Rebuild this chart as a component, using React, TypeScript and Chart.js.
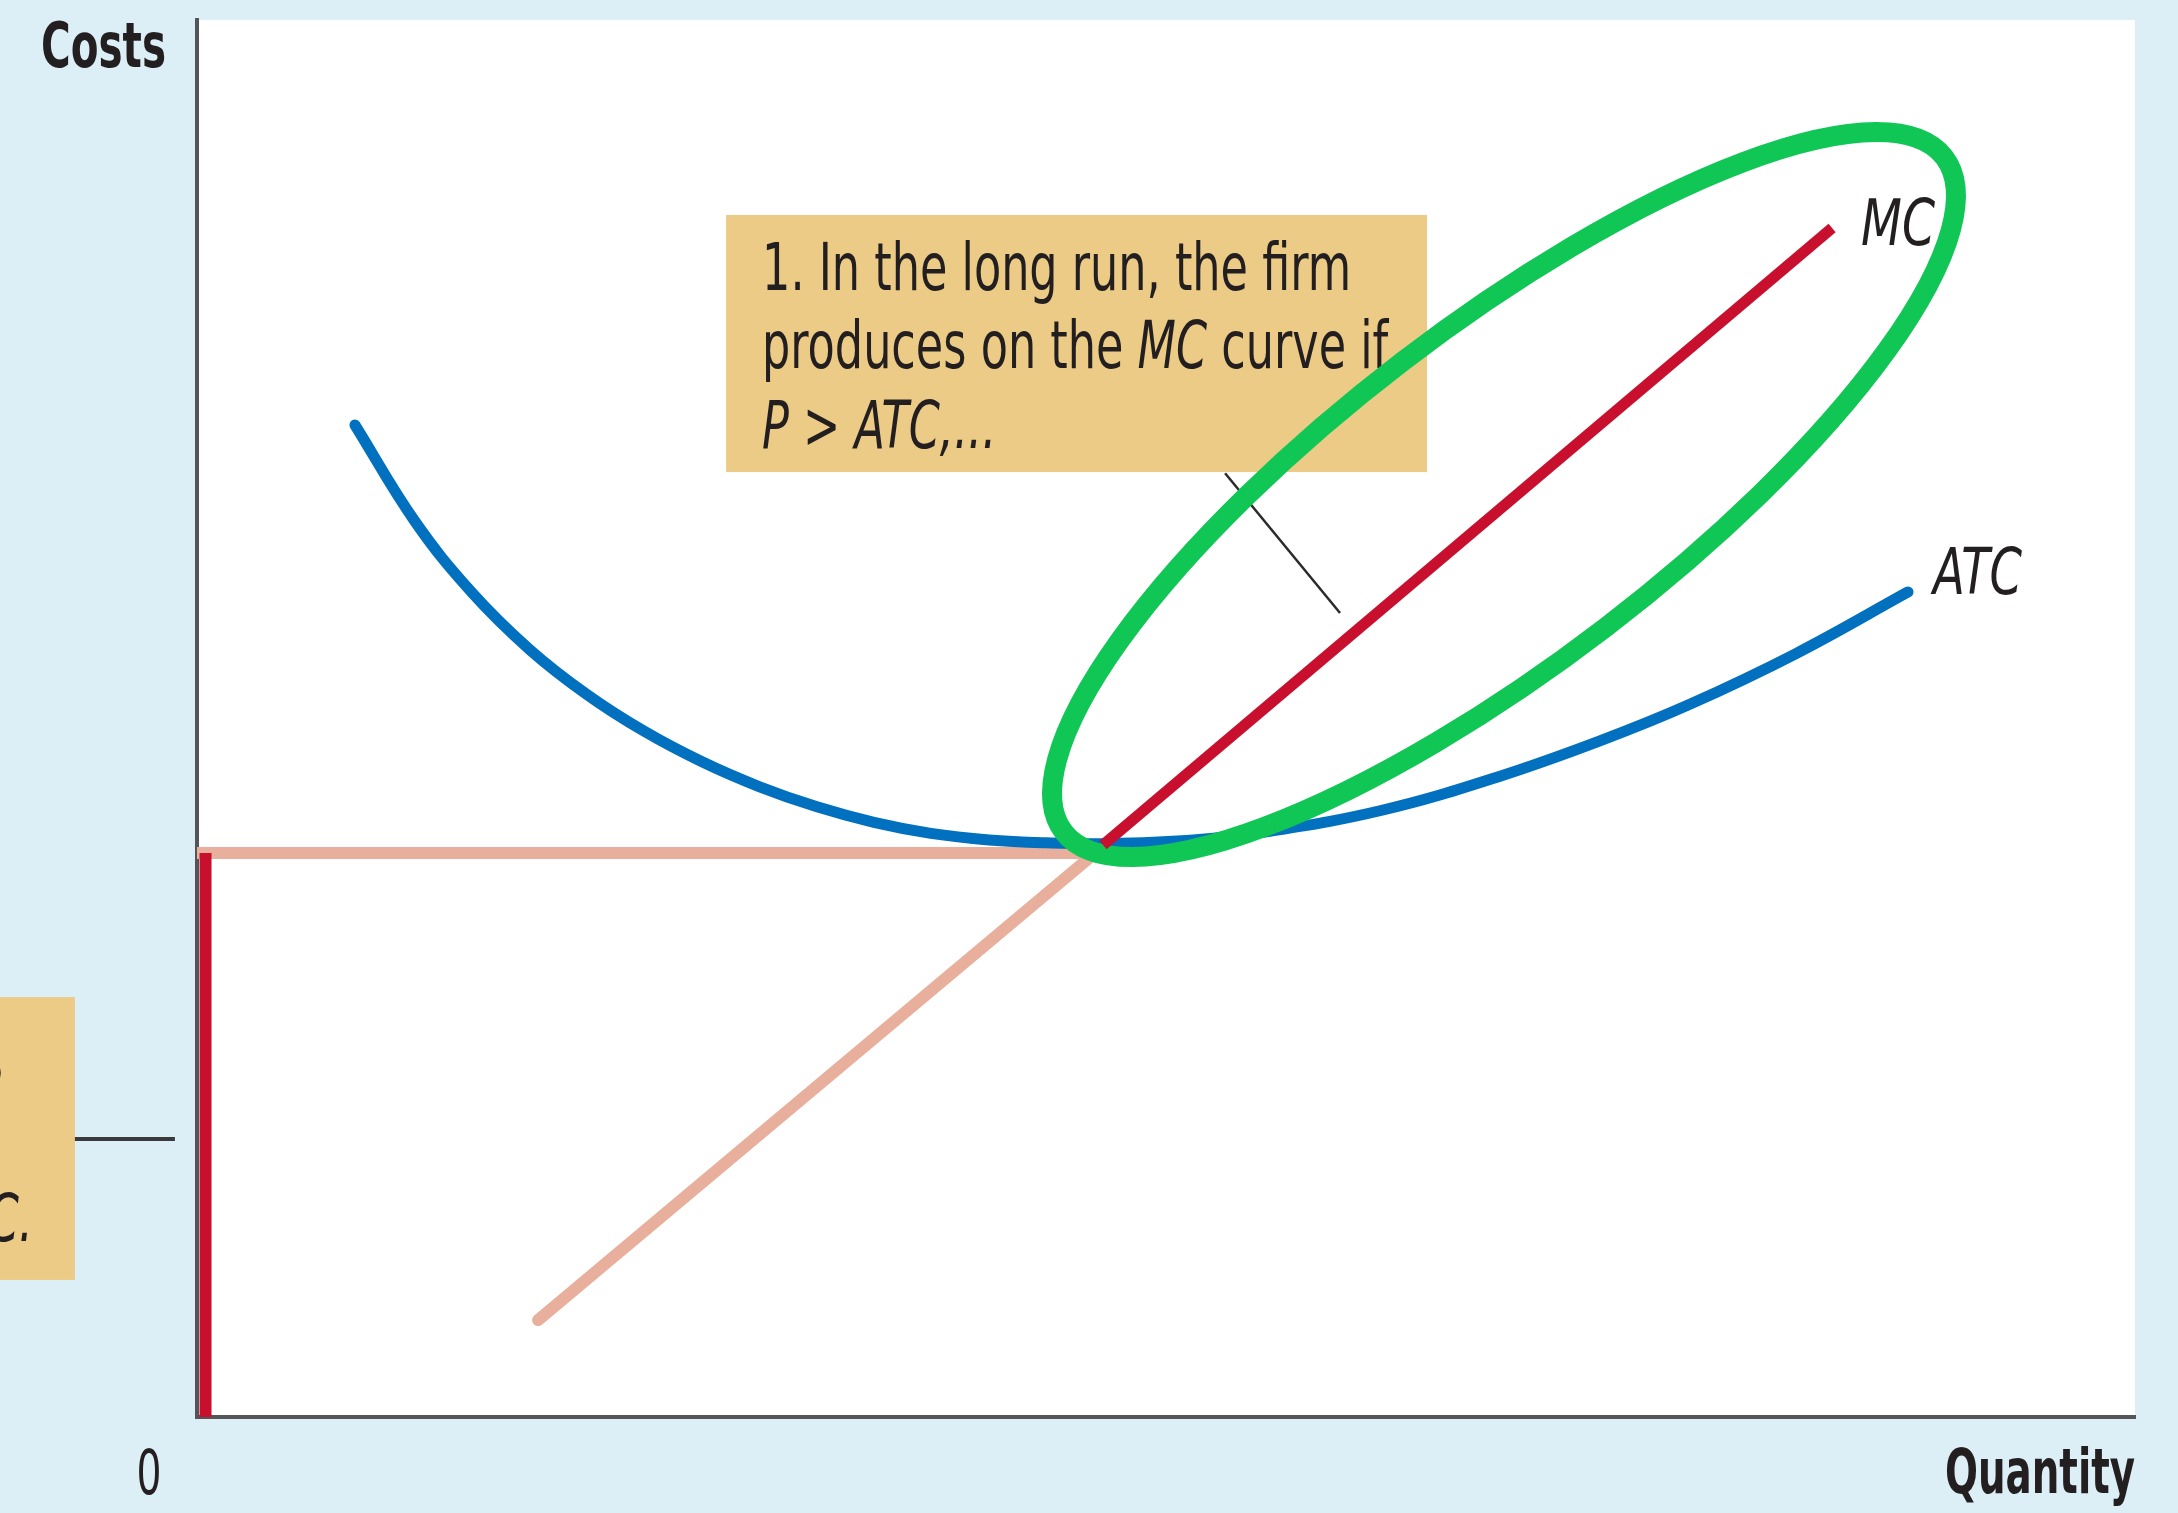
import React, { useEffect, useRef } from 'react';
import { Chart, registerables } from 'chart.js';

Chart.register(...registerables);

// ---- data (x: quantity 0-100, y: costs 0-100) ----
const ATC_X = [8.15, 11.25, 14.19, 17.18, 20.12, 23.06, 26.06, 29.0, 31.99, 34.93, 37.87, 40.87, 43.81, 46.8, 51.24, 55.26, 61.2, 67.08, 72.39, 77.0, 82.51, 88.29];
const ATC_Y = [71.01, 64.1, 59.01, 54.92, 51.72, 49.1, 46.9, 45.13, 43.68, 42.57, 41.78, 41.31, 41.1, 41.04, 41.28, 41.91, 43.45, 45.8, 48.4, 51.0, 54.65, 59.06];
const MC_X = [46.75, 84.37];
const MC_Y = [40.95, 85.11];
const EXIT_X = [17.6, 46.34, 0];
const EXIT_Y = [6.94, 40.37, 40.37];
const ZERO_X = [0.44, 0.44];
const ZERO_Y = [0, 40.37];

// annotation geometry (data units)
const ELLIPSE_CENTER = [67.44, 66.03];
const ELLIPSE_AXES = [28.62, 8.63]; // in x-units
const ELLIPSE_ROT_DEG = 37.45;
const BOX1 = [27.3, 86.04, 63.47, 67.64];
const BOX2 = [-10.17, 30.06, -6.3, 9.81];
const LEADER1 = [53.05, 67.56, 58.98, 57.55];
const LEADER2 = [-6.3, 19.9, -1.14, 19.9];

// texts
const Y_TITLE = 'Costs';
const X_TITLE = 'Quantity';
const ORIGIN = '0';
const MC_LABEL = 'MC';
const ATC_LABEL = 'ATC';
type Run = { t: string; it?: boolean };
const BOX1_LINES: Run[][] = [
  [{ t: '1. In the long run, the firm' }],
  [{ t: 'produces on the ' }, { t: 'MC', it: true }, { t: ' curve if' }],
  [{ t: 'P', it: true }, { t: ' > ' }, { t: 'ATC,...', it: true }],
];
const BOX2_LINES: Run[][] = [
  [{ t: '2. ...but exits' }],
  [{ t: 'the market if' }],
  [{ t: 'P', it: true }, { t: ' < ' }, { t: 'ATC.', it: true }],
];

// styles
const BG = '#DCEFF6';
const TAN = '#EBCB85';
const RED = '#C8102E';
const BLUE = '#0070BF';
const PINK = '#E8B09C';
const GREEN = '#10C755';
const AXIS = '#555557';
const INK = '#231F20';
const FAMILY = "'Liberation Sans Narrow', 'DejaVu Sans Condensed', 'Liberation Sans', sans-serif";

const pts = (xs: number[], ys: number[]) => xs.map((x, i) => ({ x, y: ys[i] }));

function fontOf(r: Run, size: number, weight: string) {
  return `${r.it ? 'italic ' : ''}${weight} ${size}px ${FAMILY}`;
}
function measureRuns(ctx: CanvasRenderingContext2D, runs: Run[], size: number, weight: string) {
  let w = 0;
  for (const r of runs) {
    ctx.font = fontOf(r, size, weight);
    w += ctx.measureText(r.t).width;
  }
  return w;
}
function drawRuns(
  ctx: CanvasRenderingContext2D,
  runs: Run[],
  x: number,
  y: number,
  size: number,
  weight: string,
  sx: number,
  align: 'left' | 'right' | 'center'
) {
  const w = measureRuns(ctx, runs, size, weight) * sx;
  const x0 = align === 'right' ? x - w : align === 'center' ? x - w / 2 : x;
  ctx.save();
  ctx.translate(x0, y);
  ctx.scale(sx, 1);
  ctx.textAlign = 'left';
  ctx.textBaseline = 'alphabetic';
  ctx.fillStyle = INK;
  let cx = 0;
  for (const r of runs) {
    ctx.font = fontOf(r, size, weight);
    ctx.fillText(r.t, cx, 0);
    cx += ctx.measureText(r.t).width;
  }
  ctx.restore();
}
function fitScale(ctx: CanvasRenderingContext2D, runs: Run[], size: number, weight: string, target: number) {
  return target / measureRuns(ctx, runs, size, weight);
}

const annotationPlugin = {
  id: 'econAnnotations',
  beforeDraw(chart: any) {
    const { ctx, chartArea: a, width, height } = chart;
    ctx.save();
    ctx.fillStyle = BG;
    ctx.fillRect(0, 0, width, height);
    ctx.fillStyle = '#ffffff';
    ctx.fillRect(a.left, a.top, a.right - a.left, a.bottom - a.top);
    ctx.restore();
  },
  beforeDatasetsDraw(chart: any) {
    const { ctx } = chart;
    const xs = chart.scales.x;
    const ys = chart.scales.y;
    const px = (v: number) => xs.getPixelForValue(v);
    const py = (v: number) => ys.getPixelForValue(v);
    ctx.save();
    // boxes
    ctx.fillStyle = TAN;
    for (const b of [BOX1, BOX2]) {
      ctx.fillRect(px(b[0]), py(b[1]), px(b[2]) - px(b[0]), py(b[3]) - py(b[1]));
    }
    // leaders
    ctx.strokeStyle = '#2b2b2b';
    ctx.lineCap = 'butt';
    ctx.lineWidth = 2.5;
    ctx.beginPath();
    ctx.moveTo(px(LEADER1[0]), py(LEADER1[1]));
    ctx.lineTo(px(LEADER1[2]), py(LEADER1[3]));
    ctx.stroke();
    ctx.lineWidth = 4;
    ctx.strokeStyle = '#3a3a3a';
    ctx.beginPath();
    ctx.moveTo(px(LEADER2[0]), py(LEADER2[1]));
    ctx.lineTo(px(LEADER2[2]), py(LEADER2[3]));
    ctx.stroke();

    // box texts
    const size = 65;
    const sx = fitScale(ctx, BOX1_LINES[0], size, 'normal', 589);
    const b1l = px(BOX1[0]);
    const b1t = py(BOX1[1]);
    const offs = [75, 153, 233];
    BOX1_LINES.forEach((runs, i) => drawRuns(ctx, runs, b1l + 36, b1t + offs[i], size, 'normal', sx, 'left'));

    const b2l = px(BOX2[0]);
    const b2t = py(BOX2[1]);
    const b2r = px(BOX2[2]);
    const b2b = py(BOX2[3]);
    ctx.save();
    ctx.beginPath();
    ctx.rect(b2l, b2t, b2r - b2l, b2b - b2t);
    ctx.clip();
    const ends = [3, -20, 33];
    const offs2 = [86, 165, 244];
    BOX2_LINES.forEach((runs, i) => drawRuns(ctx, runs, b2l + ends[i], b2t + offs2[i], size, 'normal', sx, 'right'));
    ctx.restore();
    ctx.restore();
  },
  afterDatasetDraw(chart: any, args: any) {
    if (args.index !== 2) return;
    const { ctx } = chart;
    const xs = chart.scales.x;
    const ys = chart.scales.y;
    const cx = xs.getPixelForValue(ELLIPSE_CENTER[0]);
    const cy = ys.getPixelForValue(ELLIPSE_CENTER[1]);
    const unit = xs.getPixelForValue(1) - xs.getPixelForValue(0);
    ctx.save();
    ctx.beginPath();
    ctx.ellipse(cx, cy, ELLIPSE_AXES[0] * unit, ELLIPSE_AXES[1] * unit, (-ELLIPSE_ROT_DEG * Math.PI) / 180, 0, Math.PI * 2);
    ctx.lineWidth = 20;
    ctx.strokeStyle = GREEN;
    ctx.stroke();
    ctx.restore();
  },
  afterDraw(chart: any) {
    const { ctx, chartArea: a } = chart;
    const xs = chart.scales.x;
    const ys = chart.scales.y;
    const lsize = 63;
    drawRuns(ctx, [{ t: Y_TITLE }], a.left - 31, a.top + 47, lsize, 'bold', fitScale(ctx, [{ t: Y_TITLE }], lsize, 'bold', 125), 'right');
    drawRuns(ctx, [{ t: X_TITLE }], a.right, a.bottom + 76, lsize, 'bold', fitScale(ctx, [{ t: X_TITLE }], lsize, 'bold', 190), 'right');
    drawRuns(ctx, [{ t: ORIGIN }], a.left - 48, a.bottom + 77, lsize, 'normal', fitScale(ctx, [{ t: ORIGIN }], lsize, 'normal', 25), 'center');
    const mcx = xs.getPixelForValue(MC_X[MC_X.length - 1]);
    const mcy = ys.getPixelForValue(MC_Y[MC_Y.length - 1]);
    drawRuns(ctx, [{ t: MC_LABEL, it: true }], mcx + 29, mcy + 17, 64, 'normal', fitScale(ctx, [{ t: MC_LABEL, it: true }], 64, 'normal', 74), 'left');
    const atx = xs.getPixelForValue(ATC_X[ATC_X.length - 1]);
    const aty = ys.getPixelForValue(ATC_Y[ATC_Y.length - 1]);
    drawRuns(ctx, [{ t: ATC_LABEL, it: true }], atx + 25, aty + 2, 64, 'normal', fitScale(ctx, [{ t: ATC_LABEL, it: true }], 64, 'normal', 89), 'left');
  },
};

export default function App() {
  const ref = useRef<HTMLCanvasElement | null>(null);
  useEffect(() => {
    if (!ref.current) return;
    const axisOpts = {
      type: 'linear' as const,
      min: 0,
      max: 100,
      grid: { display: false, drawTicks: false },
      ticks: { display: false },
      border: { display: true, color: AXIS, width: 4 },
    };
    const chart = new Chart(ref.current, {
      type: 'line',
      data: {
        datasets: [
          { label: 'Exit', data: pts(EXIT_X, EXIT_Y), borderColor: PINK, borderWidth: 12, order: 4, borderCapStyle: 'round', borderJoinStyle: 'miter', tension: 0 },
          { label: 'Shut', data: pts(ZERO_X, ZERO_Y), borderColor: RED, borderWidth: 12, order: 3, borderCapStyle: 'butt', tension: 0 },
          { label: 'ATC', data: pts(ATC_X, ATC_Y), borderColor: BLUE, borderWidth: 11, order: 2, borderCapStyle: 'round', tension: 0.4 },
          { label: 'MC', data: pts(MC_X, MC_Y), borderColor: RED, borderWidth: 11, order: 1, borderCapStyle: 'butt', tension: 0 },
        ] as any,
      },
      options: {
        animation: false,
        responsive: false,
        devicePixelRatio: 1,
        layout: { padding: { left: 197, right: 43, top: 20, bottom: 96 } },
        elements: { point: { radius: 0, hoverRadius: 0 } },
        plugins: { legend: { display: false }, tooltip: { enabled: false } },
        scales: { x: axisOpts, y: axisOpts },
      } as any,
      plugins: [annotationPlugin as any],
    });
    return () => chart.destroy();
  }, []);
  return (
    <div style={{ position: 'fixed', left: 0, top: 0, width: 2178, height: 1513 }}>
      <canvas ref={ref} width={2178} height={1513} style={{ display: 'block', width: 2178, height: 1513 }} />
    </div>
  );
}
